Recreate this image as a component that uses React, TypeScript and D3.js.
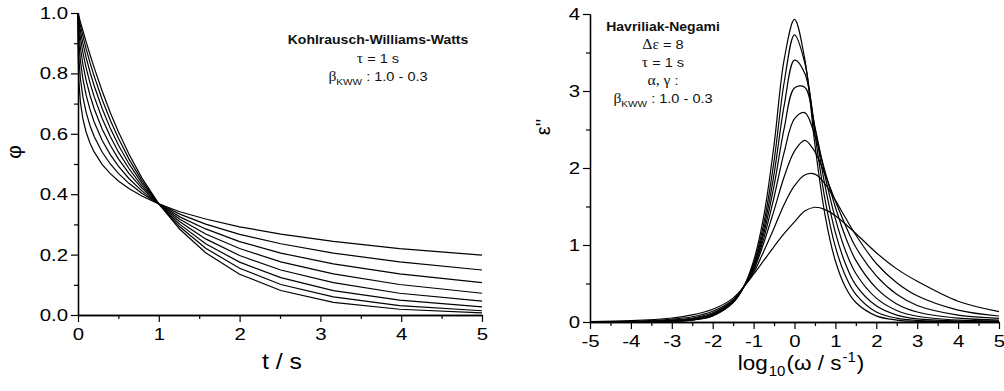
import React, { useEffect, useRef } from 'react'
import * as d3 from 'd3'

// left panel: KWW decay, phi(t) read at these times
const kwwTimes = [0, 0.002, 0.01, 0.03, 0.06, 0.1, 0.15, 0.2, 0.3, 0.4, 0.5, 0.63, 0.79, 1, 1.26, 1.58, 2, 2.51, 3.16, 3.98, 5]
const phiB10 = [1, 0.998, 0.99, 0.97, 0.942, 0.905, 0.861, 0.819, 0.741, 0.67, 0.607, 0.533, 0.454, 0.368, 0.284, 0.206, 0.135, 0.081, 0.042, 0.019, 0.007]
const phiB09 = [1, 0.996, 0.984, 0.958, 0.924, 0.882, 0.834, 0.791, 0.713, 0.645, 0.585, 0.517, 0.445, 0.368, 0.292, 0.221, 0.155, 0.101, 0.06, 0.031, 0.014]
const phiB08 = [1, 0.993, 0.975, 0.941, 0.9, 0.853, 0.803, 0.759, 0.683, 0.618, 0.563, 0.501, 0.437, 0.368, 0.3, 0.236, 0.175, 0.124, 0.081, 0.049, 0.027]
const phiB07 = [1, 0.987, 0.961, 0.918, 0.87, 0.819, 0.767, 0.723, 0.65, 0.591, 0.54, 0.485, 0.428, 0.368, 0.309, 0.252, 0.197, 0.149, 0.107, 0.072, 0.046]
const phiB06 = [1, 0.976, 0.939, 0.885, 0.831, 0.778, 0.726, 0.683, 0.615, 0.562, 0.517, 0.469, 0.42, 0.368, 0.317, 0.268, 0.22, 0.176, 0.136, 0.101, 0.072]
const phiB05 = [1, 0.956, 0.905, 0.841, 0.783, 0.729, 0.679, 0.639, 0.578, 0.531, 0.493, 0.452, 0.411, 0.368, 0.325, 0.285, 0.243, 0.205, 0.169, 0.136, 0.107]
const phiB04 = [1, 0.92, 0.853, 0.782, 0.723, 0.672, 0.626, 0.591, 0.539, 0.5, 0.469, 0.436, 0.403, 0.368, 0.334, 0.301, 0.267, 0.236, 0.205, 0.176, 0.149]
const phiB03 = [1, 0.856, 0.778, 0.705, 0.65, 0.606, 0.568, 0.54, 0.498, 0.468, 0.444, 0.419, 0.394, 0.368, 0.342, 0.318, 0.292, 0.268, 0.244, 0.22, 0.198]

// right panel: HN loss, eps'' read at these log10(omega)
const logOmega = [-5, -4, -3, -2.5, -2, -1.5, -1.25, -1, -0.75, -0.5, -0.25, 0, 0.25, 0.5, 0.75, 1, 1.25, 1.5, 2, 2.5, 3, 4, 5]
const epsB10 = [0.0001, 0.0008, 0.008, 0.025, 0.08, 0.253, 0.448, 0.792, 1.379, 2.3, 3.418, 3.93, 3.418, 2.3, 1.379, 0.792, 0.448, 0.253, 0.08, 0.025, 0.008, 0.0008, 0.0001]
const epsB09 = [0.0001, 0.001, 0.009, 0.027, 0.083, 0.255, 0.447, 0.755, 1.28, 2.09, 3.12, 3.73, 3.37, 2.44, 1.58, 0.975, 0.595, 0.36, 0.13, 0.05, 0.02, 0.005, 0.003]
const epsB08 = [0.0002, 0.0015, 0.011, 0.03, 0.088, 0.26, 0.447, 0.73, 1.21, 1.92, 2.82, 3.4, 3.23, 2.52, 1.76, 1.16, 0.75, 0.48, 0.21, 0.09, 0.04, 0.012, 0.007]
const epsB07 = [0.0003, 0.0022, 0.014, 0.035, 0.095, 0.265, 0.448, 0.71, 1.15, 1.77, 2.52, 3.04, 3.05, 2.53, 1.89, 1.34, 0.92, 0.63, 0.31, 0.15, 0.075, 0.025, 0.014]
const epsB06 = [0.0006, 0.0035, 0.019, 0.042, 0.105, 0.27, 0.449, 0.69, 1.09, 1.62, 2.21, 2.64, 2.72, 2.42, 1.95, 1.49, 1.1, 0.8, 0.44, 0.235, 0.13, 0.05, 0.026]
const epsB05 = [0.0012, 0.006, 0.026, 0.052, 0.12, 0.28, 0.45, 0.67, 1.03, 1.45, 1.89, 2.22, 2.36, 2.21, 1.91, 1.57, 1.25, 0.97, 0.6, 0.36, 0.215, 0.09, 0.048]
const epsB04 = [0.0025, 0.01, 0.036, 0.068, 0.14, 0.29, 0.45, 0.64, 0.92, 1.22, 1.53, 1.77, 1.91, 1.92, 1.79, 1.58, 1.35, 1.13, 0.76, 0.51, 0.34, 0.155, 0.078]
const epsB03 = [0.005, 0.017, 0.052, 0.092, 0.165, 0.31, 0.45, 0.62, 0.8, 0.98, 1.15, 1.3, 1.44, 1.49, 1.46, 1.38, 1.27, 1.15, 0.9, 0.69, 0.53, 0.27, 0.135]

const kwwCurves = [phiB10, phiB09, phiB08, phiB07, phiB06, phiB05, phiB04, phiB03]
const hnCurves = [epsB10, epsB09, epsB08, epsB07, epsB06, epsB05, epsB04, epsB03]

const sans = "'Liberation Sans', Arial, sans-serif"
const serif = "'Liberation Serif', 'Times New Roman', serif"
const tickStretch = 1.2 // the original figure's text is a bit wide
const noteStretch = 1.12

const App: React.FC = () => {
  const svgRef = useRef<SVGSVGElement | null>(null)

  useEffect(() => {
    if (!svgRef.current) return
    const svg = d3.select(svgRef.current)
    svg.selectAll('*').remove()

    const xL = d3.scaleLinear().domain([0, 5]).range([78, 482])
    const yL = d3.scaleLinear().domain([0, 1]).range([315, 13])
    const xR = d3.scaleLinear().domain([-5, 5]).range([590, 999])
    const yR = d3.scaleLinear().domain([0, 4]).range([322, 14])

    const styleAxis = (g: any) => {
      g.selectAll('.domain').attr('stroke', '#000').attr('stroke-width', 1.3)
      g.selectAll('.tick line').attr('stroke', '#000').attr('stroke-width', 1.2)
      g.selectAll('.tick text')
        .attr('font-family', sans)
        .attr('font-size', 17)
        .attr('fill', '#000')
    }

    const axes = (
      x: d3.ScaleLinear<number, number>,
      y: d3.ScaleLinear<number, number>,
      xMajor: number[],
      xMinor: number[],
      yMajor: number[],
      yMinor: number[],
      yFmt: (d: number) => string,
    ) => {
      const x0 = x.range()[0]
      const y0 = y.range()[0]
      svg
        .append('g')
        .attr('transform', `translate(0,${y0})`)
        .call(d3.axisBottom(x).tickValues(xMinor).tickSize(4).tickSizeOuter(0).tickFormat(() => ''))
        .call(styleAxis)
      svg
        .append('g')
        .attr('transform', `translate(${x0},0)`)
        .call(d3.axisLeft(y).tickValues(yMinor).tickSize(4).tickSizeOuter(0).tickFormat(() => ''))
        .call(styleAxis)
      svg
        .append('g')
        .attr('transform', `translate(0,${y0})`)
        .call(
          d3.axisBottom(x).tickValues(xMajor).tickSize(7).tickSizeOuter(0).tickPadding(6)
            .tickFormat(d => String(d)),
        )
        .call(styleAxis)
        .call(g => g.selectAll('.tick text').attr('transform', `scale(${tickStretch},1)`))
      svg
        .append('g')
        .attr('transform', `translate(${x0},0)`)
        .call(
          d3.axisLeft(y).tickValues(yMajor).tickSize(7).tickSizeOuter(0).tickPadding(3)
            .tickFormat(d => yFmt(d as number)),
        )
        .call(styleAxis)
        .call(g =>
          g.selectAll('.tick text')
            .attr('x', -10 / tickStretch)
            .attr('transform', `scale(${tickStretch},1)`),
        )
    }

    axes(
      xL, yL,
      [0, 1, 2, 3, 4, 5],
      [0.5, 1.5, 2.5, 3.5, 4.5],
      [0, 0.2, 0.4, 0.6, 0.8, 1.0],
      [0.1, 0.3, 0.5, 0.7, 0.9],
      d3.format('.1f'),
    )
    axes(
      xR, yR,
      [-5, -4, -3, -2, -1, 0, 1, 2, 3, 4, 5],
      [-4.5, -3.5, -2.5, -1.5, -0.5, 0.5, 1.5, 2.5, 3.5, 4.5],
      [0, 1, 2, 3, 4],
      [0.5, 1.5, 2.5, 3.5],
      d => String(d),
    )

    // curves
    const lineL = d3
      .line<number>()
      .x((_, i) => xL(kwwTimes[i]))
      .y(d => yL(d))
    svg
      .append('g')
      .selectAll('path')
      .data(kwwCurves)
      .join('path')
      .attr('d', d => lineL(d))
      .attr('fill', 'none')
      .attr('stroke', '#000')
      .attr('stroke-width', 1.2)

    const lineR = d3
      .line<number>()
      .x((_, i) => xR(logOmega[i]))
      .y(d => yR(d))
      .curve(d3.curveCatmullRom.alpha(0.5))
    svg
      .append('g')
      .selectAll('path')
      .data(hnCurves)
      .join('path')
      .attr('d', d => lineR(d))
      .attr('fill', 'none')
      .attr('stroke', '#000')
      .attr('stroke-width', 1.2)

    // axis titles
    svg
      .append('text')
      .attr('transform', 'translate(282,369) scale(1.13,1)')
      .attr('text-anchor', 'middle')
      .attr('font-family', sans)
      .attr('font-size', 22)
      .text('t / s')
    svg
      .append('text')
      .attr('transform', 'translate(21,152) rotate(-90)')
      .attr('text-anchor', 'middle')
      .attr('font-family', sans)
      .attr('font-size', 21)
      .text('φ')
    svg
      .append('text')
      .attr('transform', 'translate(550,127) rotate(-90)')
      .attr('text-anchor', 'middle')
      .attr('font-family', sans)
      .attr('font-size', 20)
      .text("ε''")

    const xt = svg
      .append('text')
      .attr('transform', 'translate(801,370) scale(1.07,1)')
      .attr('text-anchor', 'middle')
      .attr('font-family', sans)
      .attr('font-size', 21)
    xt.append('tspan').text('log')
    xt.append('tspan').attr('font-size', 14).attr('dx', 1).attr('dy', 6).text('10')
    xt.append('tspan').attr('dx', 1).attr('dy', -6).text('(ω / s')
    xt.append('tspan').attr('font-size', 14).attr('dx', 1).attr('dy', -8).text('-1')
    xt.append('tspan').attr('dx', 1).attr('dy', 8).text(')')

    // annotations
    const note = (x: number, y: number) =>
      svg
        .append('text')
        .attr('transform', `translate(${x},${y}) scale(${noteStretch},1)`)
        .attr('text-anchor', 'middle')
        .attr('font-family', sans)
        .attr('font-size', 13)
        .attr('fill', '#111')

    const betaLine = (x: number, y: number) => {
      const t = note(x, y)
      t.append('tspan').attr('font-family', serif).attr('font-size', 14).text('β')
      t.append('tspan').attr('font-size', 9).attr('dy', 4).text('KWW')
      t.append('tspan').attr('dy', -4).text(' : 1.0 - 0.3')
    }
    const tauLine = (x: number, y: number) => {
      const t = note(x, y)
      t.append('tspan').attr('font-family', serif).attr('font-size', 14).text('τ')
      t.append('tspan').text(' = 1 s')
    }

    note(378, 44).attr('font-weight', 'bold').attr('font-size', 12.5).text('Kohlrausch-Williams-Watts')
    tauLine(378, 63)
    betaLine(378, 81)

    note(663, 31).attr('font-weight', 'bold').attr('font-size', 12.5).text('Havriliak-Negami')
    const de = note(663, 49)
    de.append('tspan').attr('font-family', serif).attr('font-size', 14).text('Δε')
    de.append('tspan').text(' = 8')
    tauLine(663, 67)
    const ag = note(663, 85)
    ag.append('tspan').attr('font-family', serif).attr('font-size', 14).text('α, γ')
    ag.append('tspan').text(' :')
    betaLine(663, 103)
  }, [])

  return (
    <svg
      ref={svgRef}
      width={1004}
      height={391}
      style={{ position: 'absolute', left: 0, top: 0, background: '#fff' }}
    />
  )
}

export default App
